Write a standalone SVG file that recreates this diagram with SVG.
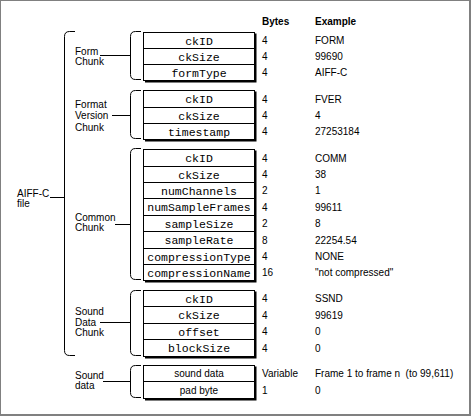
<svg xmlns="http://www.w3.org/2000/svg" width="471" height="416" viewBox="0 0 471 416">
<style>
.frame{fill:#808080}
.box{fill:#fff;stroke:#000;stroke-width:1}
.shadow{fill:#000}
.div{stroke:#000;stroke-width:1}
.br{fill:none;stroke:#000;stroke-width:1}
.ln{stroke:#000;stroke-width:1}
.lab{font-family:"Liberation Sans",Arial,sans-serif;font-size:10px;fill:#000}
.hd{font-family:"Liberation Sans",Arial,sans-serif;font-size:10px;font-weight:bold;fill:#000}
.mono{font-family:"Liberation Mono","Courier New",monospace;font-size:11.5px;fill:#000;text-anchor:middle}
.sans{font-family:"Liberation Sans",Arial,sans-serif;font-size:10px;fill:#000;text-anchor:middle}
</style>
<rect x="0" y="0" width="471" height="416" fill="#fff"/>
<rect class="frame" x="0" y="0" width="471" height="1"/>
<rect class="frame" x="0" y="0" width="1" height="416"/>
<rect class="frame" x="469" y="0" width="2" height="416"/>
<rect class="frame" x="0" y="414" width="471" height="2"/>

<g id="headers">
<text class="hd" x="262" y="25">Bytes</text>
<text class="hd" x="315" y="25">Example</text>
</g>

<g id="connectors">
<path class="br" d="M75,31.5 H69.5 Q64.5,31.5 64.5,36.5 V350.5 Q64.5,355.5 69.5,355.5 H75"/>
<line class="ln" x1="50" y1="197.5" x2="64" y2="197.5"/>
<path class="br" d="M141,31.5 H135.5 Q130.5,31.5 130.5,36.5 V74.5 Q130.5,79.5 135.5,79.5 H141"/>
<line class="ln" x1="100" y1="55.5" x2="130" y2="55.5"/>
<path class="br" d="M141,90.5 H135.5 Q130.5,90.5 130.5,95.5 V133.5 Q130.5,138.5 135.5,138.5 H141"/>
<line class="ln" x1="112" y1="115.5" x2="130" y2="115.5"/>
<path class="br" d="M141,148.5 H135.5 Q130.5,148.5 130.5,153.5 V274.5 Q130.5,279.5 135.5,279.5 H141"/>
<line class="ln" x1="115" y1="224.5" x2="130" y2="224.5"/>
<path class="br" d="M141,290.5 H135.5 Q130.5,290.5 130.5,295.5 V350.5 Q130.5,355.5 135.5,355.5 H141"/>
<line class="ln" x1="100" y1="322.5" x2="130" y2="322.5"/>
<path class="br" d="M141,365.5 H135.5 Q130.5,365.5 130.5,370.5 V392.5 Q130.5,397.5 135.5,397.5 H141"/>
<line class="ln" x1="103" y1="381.5" x2="130" y2="381.5"/>
</g>

<g id="aiffc-file">
<text class="lab" x="17" y="197">AIFF-C</text>
<text class="lab" x="17" y="207">file</text>
</g>

<g id="form-chunk">
<text class="lab" x="75" y="54.5">Form</text>
<text class="lab" x="75" y="65">Chunk</text>
<rect class="shadow" x="145" y="33.5" width="111.5" height="49"/>
<rect class="box" x="143.5" y="32.5" width="111" height="48"/>
<line class="div" x1="143.5" y1="48.5" x2="254.5" y2="48.5"/>
<line class="div" x1="143.5" y1="64.5" x2="254.5" y2="64.5"/>
<text class="mono" x="199" y="44.5">ckID</text>
<text class="mono" x="199" y="60.5">ckSize</text>
<text class="mono" x="199" y="76.5">formType</text>
<text class="lab" x="262" y="44">4</text><text class="lab" x="315" y="44">FORM</text>
<text class="lab" x="262" y="60">4</text><text class="lab" x="315" y="60">99690</text>
<text class="lab" x="262" y="76">4</text><text class="lab" x="315" y="76">AIFF-C</text>
</g>

<g id="format-version-chunk">
<text class="lab" x="75" y="107.5">Format</text>
<text class="lab" x="75" y="119">Version</text>
<text class="lab" x="75" y="130.5">Chunk</text>
<rect class="shadow" x="145" y="91.5" width="111.5" height="50"/>
<rect class="box" x="143.5" y="90.5" width="111" height="49"/>
<line class="div" x1="143.5" y1="107.5" x2="254.5" y2="107.5"/>
<line class="div" x1="143.5" y1="123.5" x2="254.5" y2="123.5"/>
<text class="mono" x="199" y="103">ckID</text>
<text class="mono" x="199" y="119.5">ckSize</text>
<text class="mono" x="199" y="135.5">timestamp</text>
<text class="lab" x="262" y="102.5">4</text><text class="lab" x="315" y="102.5">FVER</text>
<text class="lab" x="262" y="119">4</text><text class="lab" x="315" y="119">4</text>
<text class="lab" x="262" y="135">4</text><text class="lab" x="315" y="135">27253184</text>
</g>

<g id="common-chunk">
<text class="lab" x="75" y="220.7">Common</text>
<text class="lab" x="75" y="230.7">Chunk</text>
<rect class="shadow" x="145" y="150.5" width="111.5" height="132"/>
<rect class="box" x="143.5" y="149.5" width="111" height="131"/>
<line class="div" x1="143.5" y1="166.5" x2="254.5" y2="166.5"/>
<line class="div" x1="143.5" y1="182.5" x2="254.5" y2="182.5"/>
<line class="div" x1="143.5" y1="198.5" x2="254.5" y2="198.5"/>
<line class="div" x1="143.5" y1="215.5" x2="254.5" y2="215.5"/>
<line class="div" x1="143.5" y1="231.5" x2="254.5" y2="231.5"/>
<line class="div" x1="143.5" y1="248.5" x2="254.5" y2="248.5"/>
<line class="div" x1="143.5" y1="264.5" x2="254.5" y2="264.5"/>
<text class="mono" x="199" y="162">ckID</text>
<text class="mono" x="199" y="178.5">ckSize</text>
<text class="mono" x="199" y="194.5">numChannels</text>
<text class="mono" x="199" y="211">numSampleFrames</text>
<text class="mono" x="199" y="227.5">sampleSize</text>
<text class="mono" x="199" y="244">sampleRate</text>
<text class="mono" x="199" y="260.5">compressionType</text>
<text class="mono" x="199" y="276.5">compressionName</text>
<text class="lab" x="262" y="161.5">4</text><text class="lab" x="315" y="161.5">COMM</text>
<text class="lab" x="262" y="178">4</text><text class="lab" x="315" y="178">38</text>
<text class="lab" x="262" y="194">2</text><text class="lab" x="315" y="194">1</text>
<text class="lab" x="262" y="210.5">4</text><text class="lab" x="315" y="210.5">99611</text>
<text class="lab" x="262" y="227">2</text><text class="lab" x="315" y="227">8</text>
<text class="lab" x="262" y="243.5">8</text><text class="lab" x="315" y="243.5">22254.54</text>
<text class="lab" x="262" y="260">4</text><text class="lab" x="315" y="260">NONE</text>
<text class="lab" x="262" y="276">16</text><text class="lab" x="315" y="276">"not compressed"</text>
</g>

<g id="sound-data-chunk">
<text class="lab" x="75" y="315">Sound</text>
<text class="lab" x="75" y="325.5">Data</text>
<text class="lab" x="75" y="336">Chunk</text>
<rect class="shadow" x="145" y="291.5" width="111.5" height="67"/>
<rect class="box" x="143.5" y="290.5" width="111" height="66"/>
<line class="div" x1="143.5" y1="306.5" x2="254.5" y2="306.5"/>
<line class="div" x1="143.5" y1="323.5" x2="254.5" y2="323.5"/>
<line class="div" x1="143.5" y1="339.5" x2="254.5" y2="339.5"/>
<text class="mono" x="199" y="302.5">ckID</text>
<text class="mono" x="199" y="319">ckSize</text>
<text class="mono" x="199" y="335.5">offset</text>
<text class="mono" x="199" y="352">blockSize</text>
<text class="lab" x="262" y="302">4</text><text class="lab" x="315" y="302">SSND</text>
<text class="lab" x="262" y="318.5">4</text><text class="lab" x="315" y="318.5">99619</text>
<text class="lab" x="262" y="335">4</text><text class="lab" x="315" y="335">0</text>
<text class="lab" x="262" y="351.5">4</text><text class="lab" x="315" y="351.5">0</text>
</g>

<g id="sound-data">
<text class="lab" x="75" y="378.7">Sound</text>
<text class="lab" x="75" y="389.3">data</text>
<rect class="shadow" x="145" y="366.5" width="111.5" height="34"/>
<rect class="box" x="143.5" y="365.5" width="111" height="33"/>
<line class="div" x1="143.5" y1="381.5" x2="254.5" y2="381.5"/>
<text class="sans" x="199" y="377">sound data</text>
<text class="sans" x="199" y="393.5">pad byte</text>
<text class="lab" x="262" y="377">Variable</text><text class="lab" x="315" y="377" xml:space="preserve" style="white-space:pre">Frame 1 to frame n  (to 99,611)</text>
<text class="lab" x="262" y="393.5">1</text><text class="lab" x="315" y="393.5">0</text>
</g>
</svg>
